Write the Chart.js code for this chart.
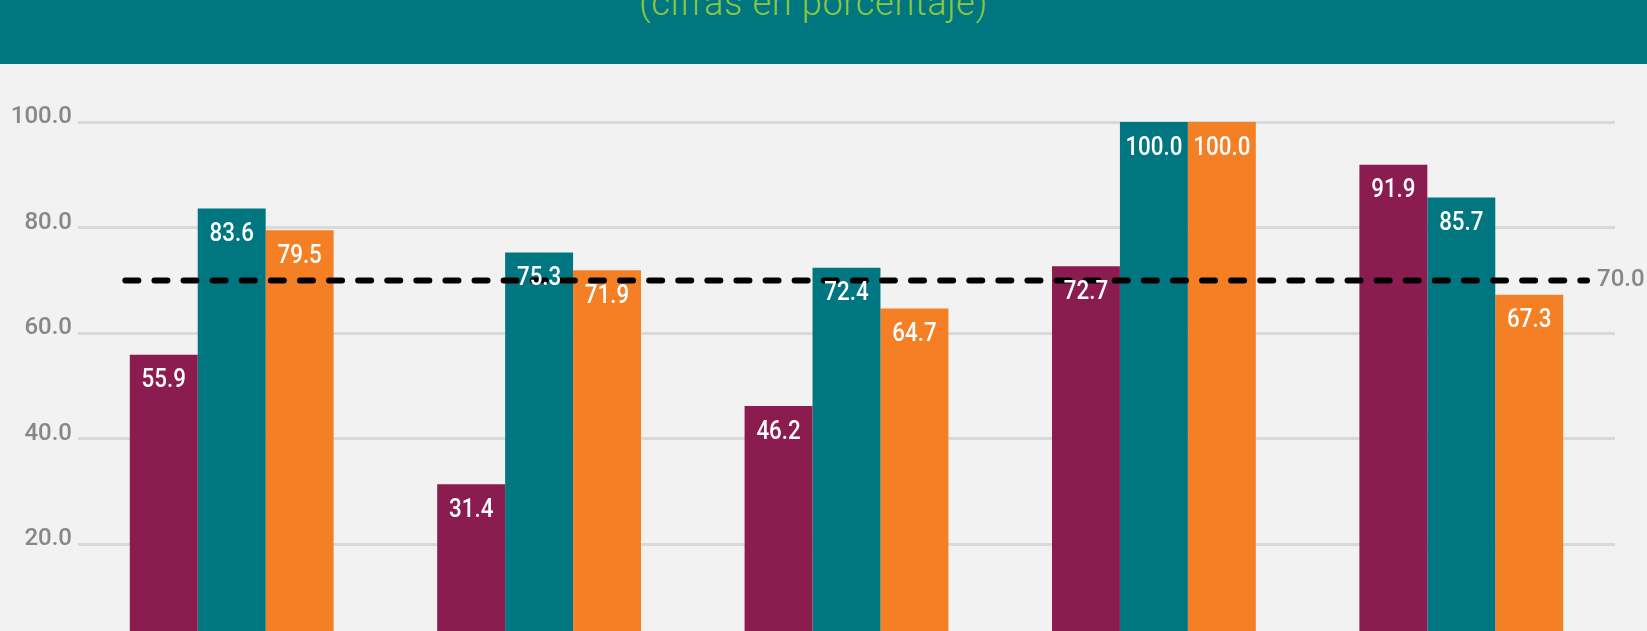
<!DOCTYPE html>
<html>
<head>
<meta charset="utf-8">
<script src="https://cdn.jsdelivr.net/npm/chart.js@4.4.1/dist/chart.umd.min.js"></script>
<style>
    html, body { margin: 0; padding: 0; background: #f2f2f2; overflow: hidden; width: 1647px; height: 631px; }
    .header { position: absolute; left: 0; top: 0; width: 1647px; height: 64px; background: #007681; overflow: hidden; }
    .header .sub { position: absolute; left: 0; top: -15px; width: 1627px; text-align: center;
        font-family: Roboto, 'Noto Sans', sans-serif; font-weight: 300; font-size: 36px; line-height: 36px;
        letter-spacing: 0.7px; color: #8cc63e; }
    .chart-wrap { position: absolute; left: 0; top: 64px; width: 1647px; height: 700px; }
</style>
</head>
<body>
<div class="header"><div class="sub">(cifras en porcentaje)</div></div>
<div class="chart-wrap"><canvas id="chart"></canvas></div>
<script>
// categories (x-axis labels fall below the visible area)
const categories = ['Grupo 1', 'Grupo 2', 'Grupo 3', 'Grupo 4', 'Grupo 5'];

// series values (percent)
const serieA = [55.9, 31.4, 46.2, 72.7, 91.9];
const serieB = [83.6, 75.3, 72.4, 100.0, 85.7];
const serieC = [79.5, 71.9, 64.7, 100.0, 67.3];

// target line (70%), spanning from just before the first group to past the last one (category units)
const metaValue = 70.0;
const metaRange = [-0.346, 4.409];

const yTicks = [0, 20, 40, 60, 80, 100];

const COLORS = { a: '#8b1c50', b: '#007681', c: '#f47f24' };

// dashed target line + its label, drawn through the chart's own scales
const metaLine = {
    id: 'metaLine',
    afterDatasetsDraw(chart) {
        const { ctx, scales: { x, y } } = chart;
        const x1 = x.getPixelForValue(metaRange[0]);
        const x2 = x.getPixelForValue(metaRange[1]);
        const py = y.getPixelForValue(metaValue);
        ctx.save();
        ctx.strokeStyle = '#000000';
        ctx.lineWidth = 6;
        ctx.lineCap = 'round';
        ctx.setLineDash([13, 16.1]);
        ctx.beginPath();
        ctx.moveTo(x1, py);
        ctx.lineTo(x2, py);
        ctx.stroke();
        ctx.setLineDash([]);
        ctx.fillStyle = '#878787';
        ctx.font = '500 24px Roboto';
        ctx.textAlign = 'left';
        ctx.textBaseline = 'middle';
        ctx.fillText(metaValue.toFixed(1), x2 + 10, py);
        ctx.restore();
    }
};

// white value labels inside the top of each bar
const valueLabels = {
    id: 'valueLabels',
    afterDatasetsDraw(chart) {
        const ctx = chart.ctx;
        ctx.save();
        ctx.textBaseline = 'middle';
        ctx.textAlign = 'center';
        ctx.fillStyle = '#ffffff';
        ctx.font = '500 26px Roboto';
        chart.data.datasets.forEach((ds, i) => {
            chart.getDatasetMeta(i).data.forEach((bar, j) => {
                ctx.save();
                ctx.translate(bar.x, bar.y + 26);
                ctx.scale(0.86, 1);
                ctx.fillText(ds.data[j].toFixed(1), 0, 0);
                ctx.restore();
            });
        });
        ctx.restore();
    }
};

const barDs = (label, data, color) => ({ label, data, backgroundColor: color, borderWidth: 0 });

new Chart(document.getElementById('chart'), {
    type: 'bar',
    data: {
        labels: categories,
        datasets: [
            barDs('A', serieA, COLORS.a),
            barDs('B', serieB, COLORS.b),
            barDs('C', serieC, COLORS.c),
        ]
    },
    options: {
        responsive: true,
        maintainAspectRatio: false,
        animation: false,
        categoryPercentage: 0.663,
        barPercentage: 1.0,
        layout: { padding: { top: 58, right: 32, bottom: 114, left: 0 } },
        plugins: { legend: { display: false }, tooltip: { enabled: false } },
        scales: {
            x: { display: false },
            y: {
                min: 0, max: 100,
                afterBuildTicks: s => { s.ticks = yTicks.map(v => ({ value: v })); },
                afterFit: s => { s.width = 78; },
                border: { display: false },
                grid: { color: '#d9d9d9', lineWidth: 3, drawTicks: false },
                ticks: {
                    padding: 6,
                    labelOffset: -5,
                    color: '#878787',
                    font: { family: 'Roboto', size: 24, weight: '500' },
                    callback: v => Number(v).toFixed(1),
                }
            }
        }
    },
    plugins: [metaLine, valueLabels]
});
</script>
</body>
</html>
